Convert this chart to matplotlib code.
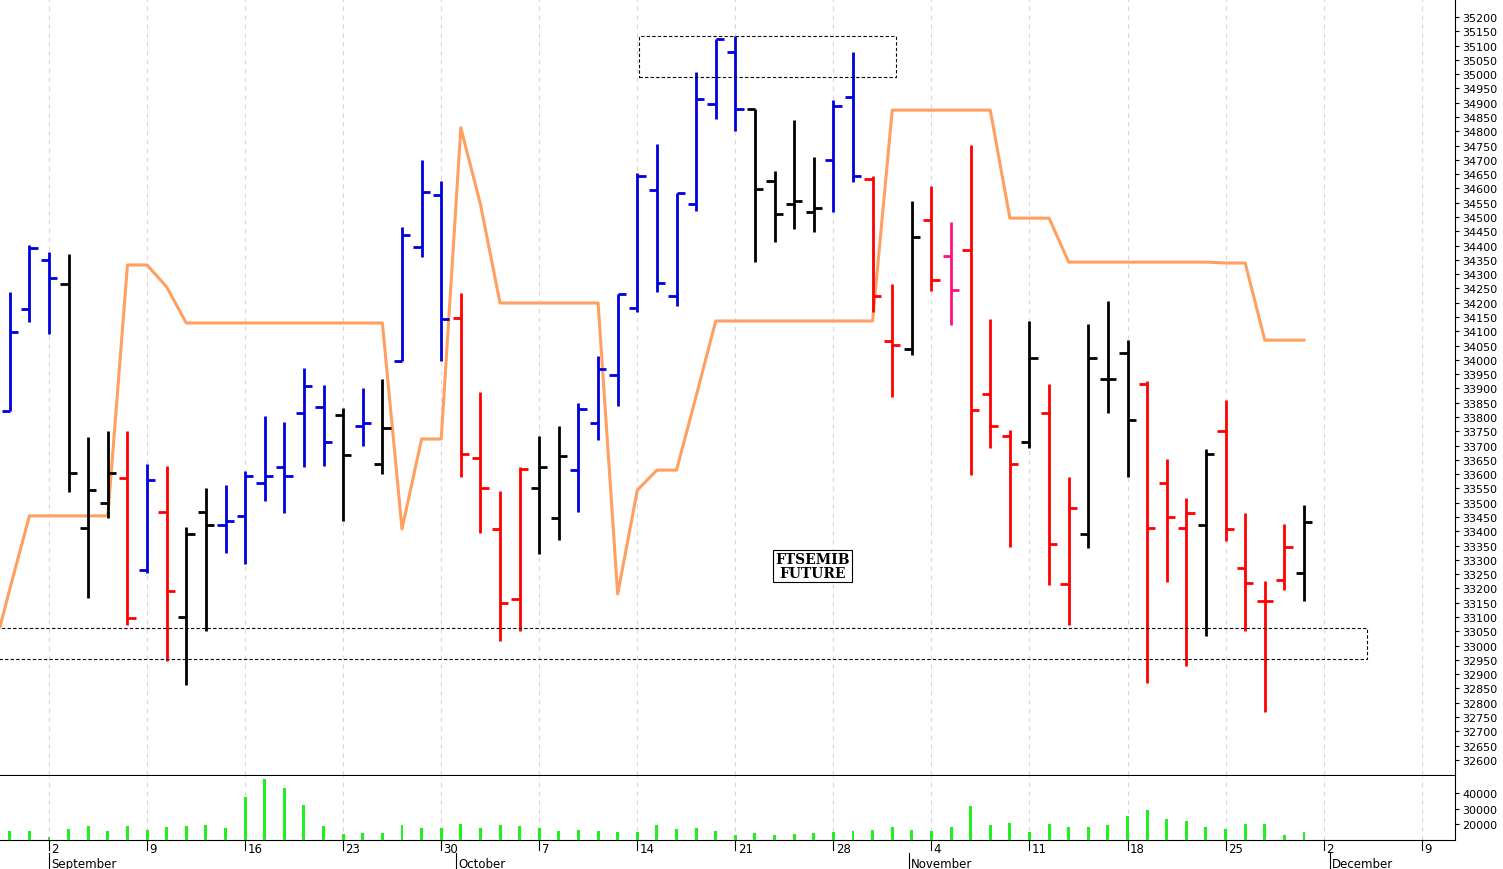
import matplotlib
matplotlib.use("Agg")
import matplotlib.pyplot as plt
from matplotlib.patches import Rectangle
import matplotlib.transforms as mtrans
import numpy as np

opens  = [33821,34178,34349,34265,33411,33499,33586,33264,33467,33100,33467,33422,33453,33569,33625,33814,33835,33807,33768,33635,
          33996,34395,34577,34146,33656,33408,33163,33551,33446,33614,33779,33947,34181,34594,34223,34545,34895,35077,34878,34626,
          34545,34517,34699,34920,34633,34066,34038,34489,34363,34384,33880,33733,33712,33814,33215,33390,33933,34024,33915,33569,
          33411,33422,33751,33271,33156,33229,33254]
highs  = [34238,34402,34377,34370,33730,33751,33751,33635,33628,33415,33551,33562,33611,33803,33782,33971,33912,33831,33901,33933,
          34465,34699,34626,34234,33887,33541,33625,33733,33768,33849,34013,34230,34654,34755,34584,35007,35123,35133,34878,34661,
          34839,34710,34909,35077,34643,34265,34556,34608,34482,34752,34143,33754,34136,33915,33590,34125,34206,34069,33926,33653,
          33516,33688,33859,33464,33226,33425,33492]
lows   = [33821,34132,34090,33537,33166,33446,33072,33254,32946,32862,33051,33324,33285,33506,33464,33625,33628,33436,33698,33600,
          33996,34360,33996,33590,33394,33016,33051,33320,33369,33467,33719,33838,34167,34237,34188,34521,34843,34801,34342,34412,
          34458,34447,34517,34622,34167,33870,34017,34241,34122,33597,33691,33345,33691,33212,33072,33341,33814,33590,32869,33222,
          32928,33033,33366,33051,32767,33194,33156]
closes = [34098,34391,34286,33604,33544,33604,33096,33579,33191,33390,33422,33436,33593,33593,33593,33908,33712,33667,33779,33761,
          34437,34587,34143,33670,33551,33149,33618,33625,33663,33828,33968,34230,34643,34269,34584,34913,35123,34878,34598,34510,
          34556,34531,34888,34643,34223,34052,34430,34279,34244,33824,33768,33635,34006,33355,33481,34006,33933,33789,33411,33450,
          33464,33670,33408,33219,33156,33345,33432]
bar_colors = (["b","b","b","k","k","k","r","b","r","k","k","b","b","b","b","b","b","k","b","k",
               "b","b","b","r","r","r","r","k","k","b","b","b","b","b","b","b","b","b","k","k",
               "k","k","b","b","r","r","k","r","m","r","r","r","k","r","r","k","k","k","r","r",
               "r","k","r","r","r","r","k"])
stop_line = [33198,33454,33454,33454,33454,33454,34332,34332,34255,34129,34129,34129,34129,34129,34129,34129,34129,34129,34129,34129,
             33408,33723,33723,34812,34545,34199,34199,34199,34199,34199,34199,33180,33544,33614,33614,33873,34136,34136,34136,34136,
             34136,34136,34136,34136,34136,34874,34874,34874,34874,34874,34874,34496,34496,34496,34342,34342,34342,34342,34342,34342,
             34342,34342,34339,34339,34069,34069,34069]
stop_start = 33065
volumes = [15500,15500,11600,16800,18700,15500,18700,16100,18100,18700,19400,17400,37400,49000,43200,32300,18700,13500,14200,14200,
           19400,17400,17400,20000,17400,19400,18700,17400,15500,16100,15500,14800,14800,19400,16800,17400,15500,12900,14200,12900,
           13500,14200,14800,15500,16100,18100,16100,15500,18100,31600,19400,20600,14800,20000,18100,18100,19400,25200,29000,23200,
           21900,18100,16800,20000,20000,12900,14800]
week_idx = [2,7,12,17,22,27,32,37,42,47,52,57,62,67,72]
week_lbl = ["2","9","16","23","30","7","14","21","28","4","11","18","25","2","9"]
month_idx = [2,23,46,67]
month_lbl = ["September","October","November","December"]

cmap = {"b":"#0000dd","k":"#000000","r":"#ff0000","m":"#ff1080"}
n = len(opens)
x = np.arange(n)

fig = plt.figure(figsize=(15.03,8.70), dpi=100)
ax = fig.add_axes([0, 1-776/870, 1455/1503, 776/870])
av = fig.add_axes([0, 1-841/870, 1455/1503, 64/870], sharex=ax)

xmin, xmax = -0.5, 73.7
for a in (ax, av):
    a.set_xlim(xmin, xmax)
    for w in week_idx:
        a.axvline(w, color="#d8d8d8", lw=0.8, ls=(0,(4,4)), zorder=0)
    a.spines["top"].set_visible(False)
    a.spines["left"].set_visible(False)
    a.yaxis.tick_right()
    a.tick_params(axis="y", labelsize=8, length=3, pad=2)

ax.set_ylim(32547, 35263)
ax.set_yticks(np.arange(32600, 35201, 50))
ax.tick_params(axis="x", bottom=False, labelbottom=False)

tw = 0.42
for i in range(n):
    c = cmap[bar_colors[i]]
    ax.vlines(i, lows[i], highs[i], color=c, lw=2.0, zorder=3)
    ax.hlines(opens[i], i-tw, i, color=c, lw=2.0, zorder=3)
    ax.hlines(closes[i], i, i+tw, color=c, lw=2.0, zorder=3)

ax.plot(np.concatenate([[-0.5], x]), [stop_start]+stop_line, color="#ffa060", lw=2.2, zorder=2)

ax.add_patch(Rectangle((32.1, 34990), 13.1, 143, fill=False, ls=(0,(3,2)), lw=0.8, ec="k", zorder=4))
ax.add_patch(Rectangle((-0.6, 32953), 69.8, 109, fill=False, ls=(0,(3,2)), lw=0.8, ec="k", zorder=4))
ax.text(40.95, 33279, "FTSEMIB\nFUTURE", ha="center", va="center", fontsize=10, fontweight="bold",
        family="DejaVu Serif", linespacing=1.0,
        bbox=dict(boxstyle="square,pad=0.15", fc="white", ec="k", lw=0.8), zorder=5)

av.bar(x, volumes, width=0.15, color="#22ee22", bottom=0, zorder=3)
av.set_ylim(9700, 51000)
av.set_yticks([20000, 30000, 40000])
av.set_xticks(week_idx)
av.set_xticklabels([])
av.tick_params(axis="x", length=0)
trans = mtrans.blended_transform_factory(av.transData, av.transAxes)
for w, l in zip(week_idx, week_lbl):
    av.text(w+0.12, -0.03, l, transform=trans, ha="left", va="top", fontsize=8.5)
    av.plot([w, w], [0, -0.15], transform=trans, color="k", lw=0.8, clip_on=False)
for m, l in zip(month_idx, month_lbl):
    mx = m - 1 if l != "September" else m
    mx = {"September":2,"October":22.75,"November":45.85,"December":67.3}[l]
    av.text(mx+0.12, -0.27, l, transform=trans, ha="left", va="top", fontsize=8.5)
    av.plot([mx, mx], [-0.2, -0.45], transform=trans, color="k", lw=0.8, clip_on=False)

fig.savefig("out.png", dpi=100)
